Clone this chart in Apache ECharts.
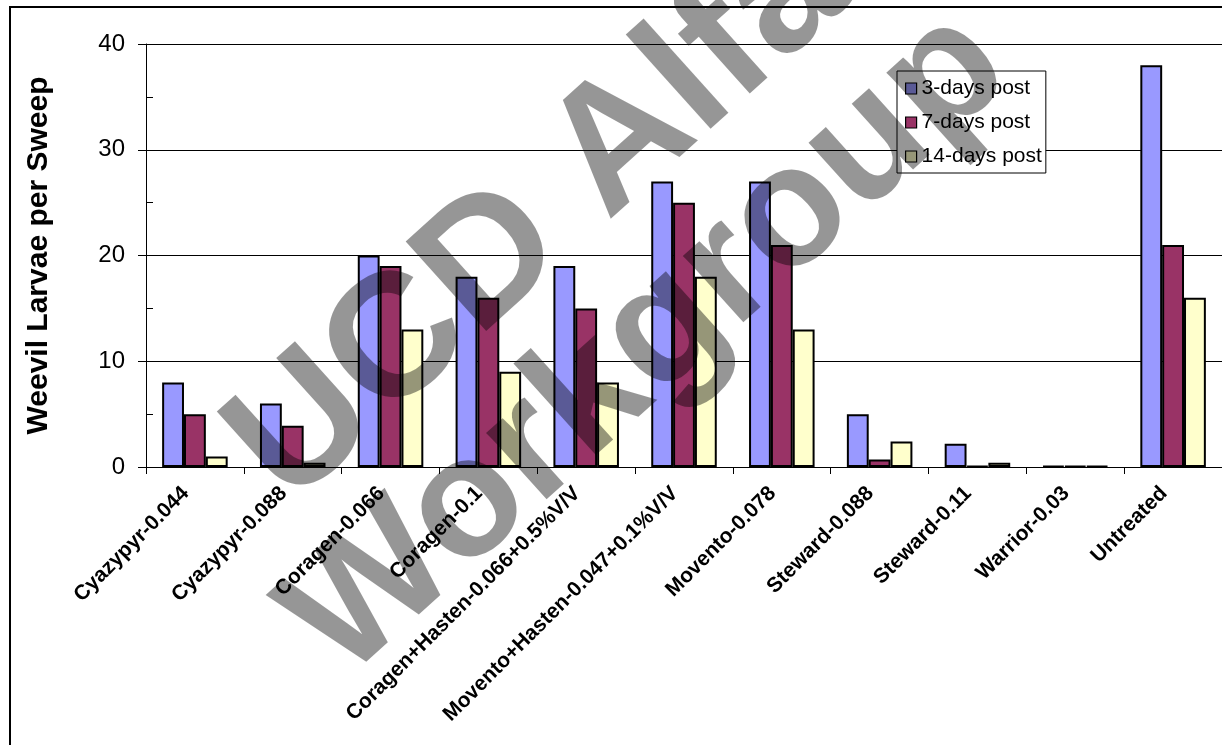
<!DOCTYPE html>
<html>
<head>
<meta charset="utf-8">
<script src="https://cdn.jsdelivr.net/npm/echarts@6/dist/echarts.min.js"></script>
<style>html,body{margin:0;padding:0;background:#fff;}#chart{width:1222px;height:745px;}</style>
</head>
<body>
<div id="chart"></div>
<script>
var categories = ['Cyazypyr-0.044','Cyazypyr-0.088','Coragen-0.066','Coragen-0.1','Coragen+Hasten-0.066+0.5%V/V','Movento+Hasten-0.047+0.1%V/V','Movento-0.078','Steward-0.088','Steward-0.11','Warrior-0.03','Untreated'];
var seriesNames = ['3-days post','7-days post','14-days post'];
var days3 = [8, 6, 20, 18, 19, 27, 27, 5, 2.2, 0.1, 38];
var days7 = [5, 3.9, 19, 16, 15, 25, 21, 0.7, 0.1, 0.1, 21];
var days14 = [1, 0.4, 13, 9, 8, 18, 13, 2.4, 0.4, 0.1, 16];
var yTicks = [0, 10, 20, 30, 40];
var yTitle = 'Weevil Larvae per Sweep';
var watermark1 = 'UCD Alfalfa';
var watermark2 = 'Workgroup';

var FONT = '"Liberation Sans", Arial, sans-serif';
var colors = ['#9999FF', '#993366', '#FFFFCC'];
var values = [days3, days7, days14];

var chart = echarts.init(document.getElementById('chart'), null, {renderer: 'canvas'});
var series = seriesNames.map(function (n, i) {
  return {
    name: n, type: 'bar', data: values[i], yAxisIndex: 0,
    barGap: '0%', barCategoryGap: '33%',
    itemStyle: {color: colors[i], borderColor: '#000', borderWidth: 2},
    emphasis: {disabled: true}, animation: false
  };
});
var rot = 42 * Math.PI / 180;
chart.setOption({
  animation: false,
  backgroundColor: '#fff',
  grid: {left: 146, top: 44, width: 1084, height: 423, containLabel: false},
  legend: {
    orient: 'vertical', left: 897, top: 71,
    data: seriesNames,
    icon: 'rect', itemWidth: 11, itemHeight: 11, itemGap: 13, itemTextGap: 6,
    padding: [7, 4, 6, 8],
    backgroundColor: '#fff', borderColor: '#000', borderWidth: 1,
    itemStyle: {borderColor: '#000', borderWidth: 1.2},
    textStyle: {fontFamily: FONT, fontSize: 21, color: '#000', lineHeight: 21},
    z: 20
  },
  xAxis: {
    type: 'category', data: categories,
    axisLine: {lineStyle: {color: '#000', width: 1}},
    axisTick: {show: true, length: 7, lineStyle: {color: '#000'}},
    axisLabel: {rotate: 45, interval: 0, fontFamily: FONT, fontSize: 21, fontWeight: 'bold', color: '#000', margin: 14, padding: [0, 13, 0, 0]}
  },
  yAxis: [{
    type: 'value', min: yTicks[0], max: yTicks[yTicks.length - 1], interval: 10,
    name: yTitle, nameLocation: 'middle', nameGap: 92,
    nameTextStyle: {fontFamily: FONT, fontSize: 30, fontWeight: 'bold', color: '#000'},
    axisLine: {show: true, lineStyle: {color: '#000', width: 1}},
    axisTick: {show: true, length: 8, lineStyle: {color: '#000'}},
    axisLabel: {fontFamily: FONT, fontSize: 24, color: '#000', margin: 21},
    splitLine: {show: true, lineStyle: {color: '#000', width: 1}}
  }, {
    type: 'value', min: 0, max: 40, interval: 5, position: 'left', offset: 0,
    axisLine: {show: false},
    axisTick: {show: true, inside: true, length: 7, lineStyle: {color: '#000'}},
    axisLabel: {show: false},
    splitLine: {show: false}
  }],
  series: series,
  graphic: [
    {type: 'rect', shape: {x: 10, y: 7, width: 1250, height: 800}, style: {fill: 'none', stroke: '#000', lineWidth: 2}, z: 0, silent: true},
    {type: 'text', x: 615, y: 150, rotation: rot, z: 100, silent: true,
     style: {text: watermark1, fontFamily: FONT, fontWeight: 'bold', fontSize: 175, fill: 'rgba(0,0,0,0.41)', align: 'center', verticalAlign: 'middle'}},
    {type: 'text', x: 648, y: 345, rotation: rot, z: 100, silent: true,
     style: {text: watermark2, fontFamily: FONT, fontWeight: 'bold', fontSize: 170, fill: 'rgba(0,0,0,0.41)', align: 'center', verticalAlign: 'middle'}}
  ]
});
</script>
</body>
</html>
